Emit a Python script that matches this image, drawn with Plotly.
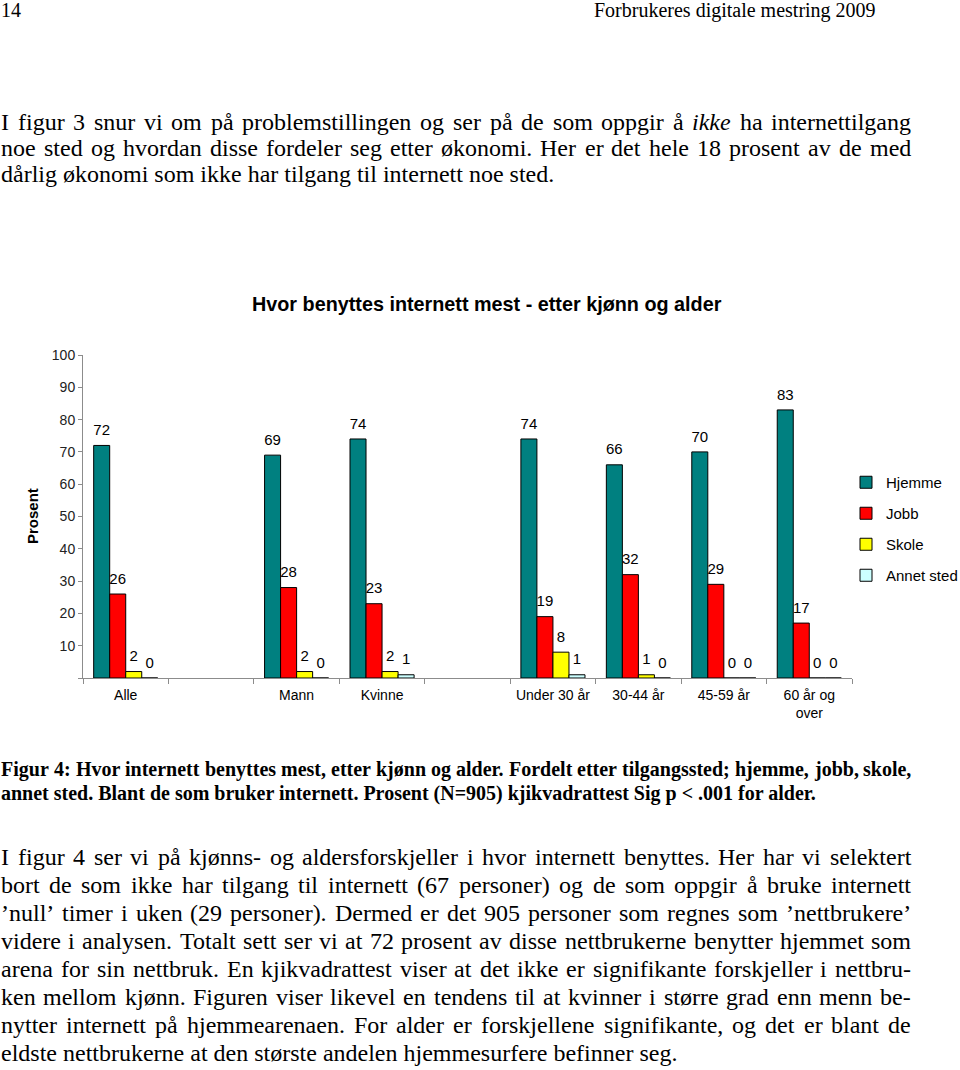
import glob
import plotly.graph_objects as go

# ---------------- data ----------------
categories = ["Alle", " ", "Mann", "Kvinne", "  ", "Under 30 år", "30-44 år", "45-59 år", "60 år og<br>over"]
series_names = ["Hjemme", "Jobb", "Skole", "Annet sted"]
hjemme = [72, None, 69, 74, None, 74, 66, 70, 83]
jobb = [26, None, 28, 23, None, 19, 32, 29, 17]
skole = [2, None, 2, 2, None, 8, 1, 0, 0]
annet = [0, None, 0, 1, None, 1, 0, 0, 0]
y_ticks = [0, 10, 20, 30, 40, 50, 60, 70, 80, 90, 100]
y_ticktext = [""] + [str(v) for v in y_ticks[1:]]

chart_title = "Hvor benyttes internett mest - etter kjønn og alder"
header_left = "14"
header_right = "Forbrukeres digitale mestring 2009"
# (text, justified)
para1 = [
    ("I figur 3 snur vi om på problemstillingen og ser på de som oppgir å <i>ikke</i> ha internettilgang", True),
    ("noe sted og hvordan disse fordeler seg etter økonomi. Her er det hele 18 prosent av de med", True),
    ("dårlig økonomi som ikke har tilgang til internett noe sted.", False),
]
caption = [
    ("Figur 4: Hvor internett benyttes mest, etter kjønn og alder. Fordelt etter tilgangssted; hjemme, jobb, skole,", True),
    ("annet sted. Blant de som bruker internett. Prosent (N=905) kjikvadrattest Sig p < .001 for alder.", False),
]
para2 = [
    ("I figur 4 ser vi på kjønns- og aldersforskjeller i hvor internett benyttes. Her har vi selektert", True),
    ("bort de som ikke har tilgang til internett (67 personer) og de som oppgir å bruke internett", True),
    ("’null’ timer i uken (29 personer). Dermed er det 905 personer som regnes som ’nettbrukere’", True),
    ("videre i analysen. Totalt sett ser vi at 72 prosent av disse nettbrukerne benytter hjemmet som", True),
    ("arena for sin nettbruk. En kjikvadrattest viser at det ikke er signifikante forskjeller i nettbru-", True),
    ("ken mellom kjønn. Figuren viser likevel en tendens til at kvinner i større grad enn menn be-", True),
    ("nytter internett på hjemmearenaen. For alder er forskjellene signifikante, og det er blant de", True),
    ("eldste nettbrukerne at den største andelen hjemmesurfere befinner seg.", False),
]

# ---------------- styling ----------------
W, H = 960, 1070
ML, MR, MT, MB = 83, 108, 355, 392
PW, PH = W - ML - MR, H - MT - MB
colors = ["#008080", "#FF0000", "#FFFF00", "#CCFFFF"]
SANS = "Liberation Sans, Arial, sans-serif"
SERIF = "Liberation Serif, Times New Roman, serif"
TEXT_LEFT, TEXT_RIGHT = -1, 909


def px(x):
    return (x - ML) / PW


def py(y):
    return (H - MB - y) / PH


# optional font metrics for justified text
_fonts = {}


def _font(style, size):
    try:
        from PIL import ImageFont
    except Exception:
        return None
    names = {"regular": "LiberationSerif-Regular.ttf", "italic": "LiberationSerif-Italic.ttf",
             "bold": "LiberationSerif-Bold.ttf"}
    key = (style, size)
    if key not in _fonts:
        paths = glob.glob("/usr/share/fonts/**/" + names[style], recursive=True)
        if not paths:
            return None
        try:
            _fonts[key] = ImageFont.truetype(paths[0], size)
        except Exception:
            return None
    return _fonts[key]


def text_lines(lines, y0, dy, size, bold=False):
    out = []
    for i, (line, justify) in enumerate(lines):
        y = py(y0 + dy * i)
        fdict = dict(family=SERIF, size=size, color="#000000")
        wrap = (lambda s: "<b>" + s + "</b>") if bold else (lambda s: s)
        words = line.split(" ")
        measured = None
        if justify:
            widths = []
            for w in words:
                if w.startswith("<i>"):
                    f = _font("italic", size)
                    plain = w.replace("<i>", "").replace("</i>", "")
                else:
                    f = _font("bold" if bold else "regular", size)
                    plain = w
                if f is None:
                    widths = None
                    break
                widths.append(f.getlength(plain))
            measured = widths
        if measured:
            gap = (TEXT_RIGHT - TEXT_LEFT - sum(measured)) / (len(words) - 1)
            xx = TEXT_LEFT
            for w, wd in zip(words, measured):
                out.append(dict(text=wrap(w), x=px(xx), y=y, xref="paper", yref="paper",
                                showarrow=False, xanchor="left", yanchor="middle", font=fdict))
                xx += wd + gap
        else:
            out.append(dict(text=wrap(line), x=px(TEXT_LEFT), y=y, xref="paper", yref="paper",
                            showarrow=False, xanchor="left", yanchor="middle", font=fdict))
    return out


fig = go.Figure()
all_series = [hjemme, jobb, skole, annet]
for name, vals, col in zip(series_names, all_series, colors):
    fig.add_trace(go.Bar(
        name=name, x=categories, y=vals,
        marker=dict(color=col, line=dict(color="#000000", width=1)),
        legendgroup=name,
    ))
# data labels (including zero values) as grouped text traces
for name, vals in zip(series_names, all_series):
    fig.add_trace(go.Scatter(
        x=categories, y=vals, mode="markers+text",
        text=[("" if v is None else str(v)) for v in vals],
        textposition="top center",
        textfont=dict(family=SANS, size=15, color="#000000"),
        marker=dict(size=9, opacity=0),
        showlegend=False, hoverinfo="skip", cliponaxis=False,
    ))

annotations = []
annotations.append(dict(text="<b>" + chart_title + "</b>", x=px(487), y=py(304), xref="paper", yref="paper",
                        showarrow=False, xanchor="center", yanchor="middle",
                        font=dict(family=SANS, size=19.8, color="#000000")))
annotations.append(dict(text="<b>Prosent</b>", x=px(32), y=py(516), xref="paper", yref="paper",
                        showarrow=False, textangle=-90, xanchor="center", yanchor="middle",
                        font=dict(family=SANS, size=15, color="#000000")))
annotations.append(dict(text=header_left, x=px(-1), y=py(10), xref="paper", yref="paper",
                        showarrow=False, xanchor="left", yanchor="middle",
                        font=dict(family=SERIF, size=20, color="#000000")))
annotations.append(dict(text=header_right, x=px(592), y=py(10), xref="paper", yref="paper",
                        showarrow=False, xanchor="left", yanchor="middle",
                        font=dict(family=SERIF, size=20, color="#000000")))
annotations += text_lines(para1, 122, 26, 24)
annotations += text_lines(caption, 769, 24, 20, bold=True)
annotations += text_lines(para2, 857, 28, 24)

fig.update_layout(
    width=W, height=H,
    margin=dict(l=ML, r=MR, t=MT, b=MB, pad=0, autoexpand=False),
    paper_bgcolor="#FFFFFF", plot_bgcolor="#FFFFFF",
    barmode="group", bargap=0.25, bargroupgap=0,
    scattermode="group", scattergap=0.25,
    font=dict(family=SANS, size=15, color="#000000"),
    showlegend=True,
    legend=dict(x=px(846), y=py(466), xanchor="left", yanchor="top",
                font=dict(family=SANS, size=15, color="#000000"),
                tracegroupgap=8.5, traceorder="grouped", bgcolor="rgba(0,0,0,0)"),
    annotations=annotations,
    xaxis=dict(type="category", categoryorder="array", categoryarray=categories,
               tickson="boundaries", ticks="outside", ticklen=5, tickcolor="#8c8c8c",
               showline=True, linecolor="#8c8c8c", linewidth=1, showgrid=False,
               tickangle=0,
               tickfont=dict(family=SANS, size=14, color="#000000"), ticklabelstandoff=4,
               fixedrange=True),
    yaxis=dict(range=[0, 100], tickvals=y_ticks, ticktext=y_ticktext,
               ticks="outside", ticklen=4, tickcolor="#8c8c8c",
               showline=True, linecolor="#8c8c8c", linewidth=1, showgrid=False, zeroline=False,
               tickfont=dict(family=SANS, size=14, color="#222222")),
)

fig.write_html("out.html")
